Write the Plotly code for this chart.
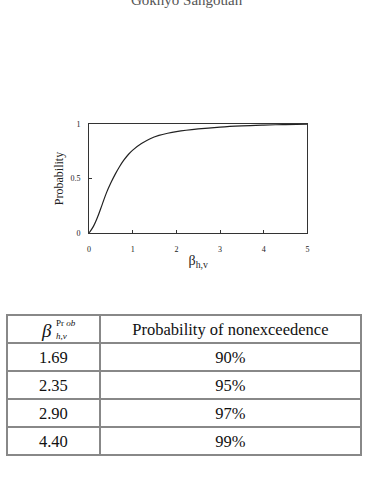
import plotly.graph_objects as go

# curve data
beta = [0, 0.1, 0.2, 0.3, 0.4, 0.5, 0.6, 0.7, 0.8, 0.9, 1.0, 1.2, 1.4, 1.6, 1.8,
        2.0, 2.5, 3.0, 3.5, 4.0, 4.5, 5.0]
prob = [0, 0.06, 0.15, 0.26, 0.37, 0.46, 0.54, 0.61, 0.67, 0.72, 0.76, 0.82,
        0.865, 0.895, 0.915, 0.93, 0.955, 0.972, 0.983, 0.99, 0.995, 0.998]

x_ticks = [0, 1, 2, 3, 4, 5]
y_ticks = [0, 0.5, 1]

# table data
tbl_beta = ["1.69", "2.35", "2.90", "4.40"]
tbl_prob = ["90%", "95%", "97%", "99%"]

W, H = 373, 478
SERIF = "Liberation Serif"

fig = go.Figure()
fig.add_trace(go.Scatter(x=beta, y=prob, mode="lines",
                         line=dict(color="#222", width=1.2, shape="spline"),
                         showlegend=False))

fig.add_trace(go.Table(
    domain=dict(x=[5 / W, 363 / W], y=[1 - 470 / H, 1 - 317 / H]),
    columnwidth=[94, 264],
    header=dict(values=[" ", "Probability of nonexceedence"],
                height=28, align="center",
                font=dict(family=SERIF, size=16.5, color="#111"),
                fill_color="white", line=dict(color="#888", width=1.5)),
    cells=dict(values=[tbl_beta, tbl_prob], height=28, align="center",
               font=dict(family=SERIF, size=16.5, color="#111"),
               fill_color="white", line=dict(color="#888", width=1.5)),
))

fig.update_layout(
    width=W, height=H,
    margin=dict(l=0, r=0, t=0, b=0),
    paper_bgcolor="white", plot_bgcolor="white",
    font=dict(family=SERIF, color="#222"),
    xaxis=dict(domain=[88 / W, 308.7 / W], range=[0, 5], tickvals=x_ticks,
               ticks="inside", ticklen=3, tickcolor="#333",
               showline=True, linecolor="#333", linewidth=1, mirror=True,
               showgrid=False, zeroline=False, ticklabelstandoff=8,
               tickfont=dict(size=8, family=SERIF),
               title=dict(text="β<sub>h,v</sub>", font=dict(size=14, family=SERIF),
                          standoff=2)),
    yaxis=dict(domain=[1 - 233.3 / H, 1 - 122.3 / H], range=[0, 1], tickvals=y_ticks,
               ticktext=["0", "0.5", "1"],
               ticks="inside", ticklen=3, tickcolor="#333",
               showline=True, linecolor="#333", linewidth=1, mirror=True,
               showgrid=False, zeroline=False, ticklabelstandoff=6,
               tickfont=dict(size=8, family=SERIF),
               title=dict(text="Probability", font=dict(size=12, family=SERIF),
                          standoff=4)),
)

# header cell symbol: beta with superscript / subscript
fig.add_annotation(x=53 / W, y=1 - 333 / H, xref="paper", yref="paper",
                   text="<i>β</i>", showarrow=False,
                   font=dict(family=SERIF, size=19, color="#111"),
                   xanchor="right", yanchor="middle")
fig.add_annotation(x=53 / W, y=1 - 325 / H, xref="paper", yref="paper",
                   text="Pr <i>ob</i>", showarrow=False,
                   font=dict(family=SERIF, size=9, color="#111"),
                   xanchor="left", yanchor="middle")
fig.add_annotation(x=53 / W, y=1 - 338 / H, xref="paper", yref="paper",
                   text="<i>h,v</i>", showarrow=False,
                   font=dict(family=SERIF, size=9, color="#111"),
                   xanchor="left", yanchor="middle")

# cut-off running header at the very top
fig.add_annotation(x=0.5, y=1 + 4 / H, xref="paper", yref="paper",
                   text="Gokhyo Sangouan", showarrow=False,
                   font=dict(family=SERIF, size=15, color="#555"),
                   xanchor="center", yanchor="middle")

fig.write_html("out.html")
